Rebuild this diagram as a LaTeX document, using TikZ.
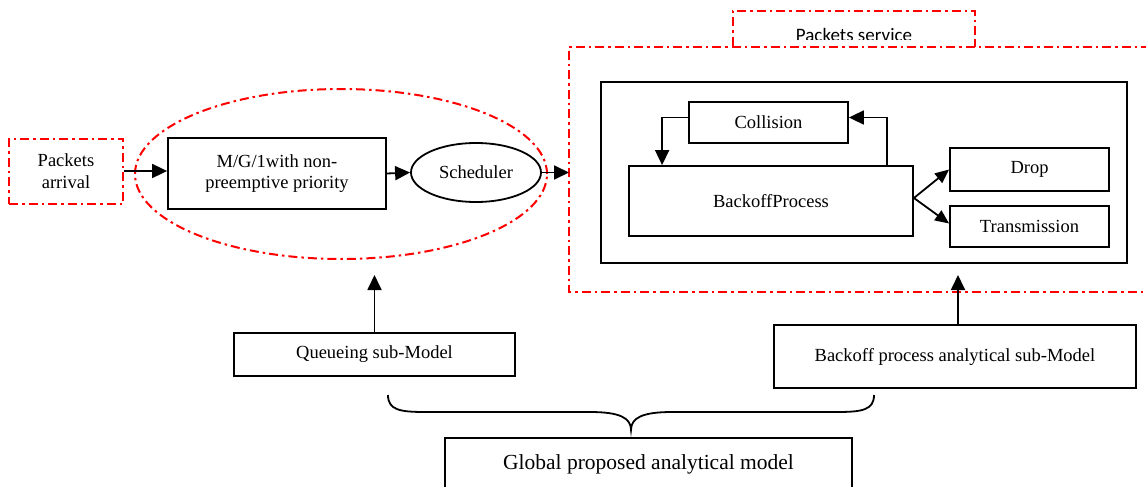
\documentclass[tikz,border=0pt]{standalone}
\usepackage{fontspec}
\setmainfont{Liberation Serif}
\newfontfamily\calfont{Carlito}
\usetikzlibrary{arrows.meta,shapes.geometric}
\begin{document}
\begin{tikzpicture}[x=1pt,y=-1pt,
  box/.style={draw,line width=1.8pt,rectangle,inner sep=0pt,align=center,font=\fontsize{18.5}{21.5}\selectfont},
  redd/.style={draw=red,line width=2pt,dash pattern=on 9pt off 4pt on 2.5pt off 4pt},
  arr/.style={line width=1.8pt,-{Triangle[length=15pt,width=14pt]}},
  arrs/.style={line width=1.8pt,-{Triangle[length=14pt,width=12pt]}}]
\useasboundingbox (0,0) rectangle (1146,487);
% left part
\node[box,redd,minimum width=114pt,minimum height=65pt] (arrival) at (66,171) {Packets\\arrival};
\node[box,minimum width=218pt,minimum height=71pt] (mg1) at (277,173.5) {M/G/1with non-\\preemptive priority};
\node[box,ellipse,minimum width=130pt,minimum height=59pt] (sched) at (476,172.5) {Scheduler};
\node[redd,ellipse,minimum width=412pt,minimum height=170pt,inner sep=0pt] (bigell) at (341,174) {};
% service region
\draw[redd] (1150,47) -- (569,47) -- (569,292) -- (1150,292);
\coordinate (svcL) at (569,172.5);
\begin{scope}
\clip (700,0) rectangle (1000,40);
\node[redd,rectangle,minimum width=242pt,minimum height=36pt,inner sep=0pt] (psvc) at (854,29) {};
\node[font=\calfont\fontsize{19}{22}\selectfont,anchor=base] (psvctext) at (854,41.5) {Packets service};
\end{scope}
\draw[redd] (733,40) -- (733,47) (975,40) -- (975,47);
\node[box,minimum width=526pt,minimum height=181pt] (inner) at (864,172.5) {};
\node[box,minimum width=159pt,minimum height=41pt] (coll) at (768.5,122.5) {Collision};
\node[box,minimum width=284pt,minimum height=70pt] (backoff) at (771,201) {BackoffProcess};
\node[box,minimum width=159pt,minimum height=43pt] (drop) at (1029.5,169.5) {Drop};
\node[box,minimum width=159pt,minimum height=41pt] (trans) at (1029.5,226.5) {Transmission};
% sub-models
\node[box,minimum width=281pt,minimum height=43pt] (qsub) at (374.5,354.5) {Queueing sub-Model};
\node[box,minimum width=362pt,minimum height=63pt] (bsub) at (955,356.5) {Backoff process analytical sub-Model};
\node[box,minimum width=407pt,minimum height=62pt] (glob) at (648.5,469) {};
\node[font=\fontsize{21.5}{25}\selectfont] (globtext) at (648.5,464) {Global proposed analytical model};
\coordinate (qtip) at (374.5,275);
\coordinate (btip) at (958,275);
% connectors
\draw[arr] (arrival.east) -- (arrival.east -| mg1.west);
\draw[arr] (mg1.east) -- (sched.west);
\draw[arr] (sched.east) -- (svcL);
\draw[arr] ([yshift=5pt]coll.west) -| ([xshift=34pt]backoff.north west);
\draw[arr] ([xshift=-27pt]backoff.north east) |- ([yshift=5pt]coll.east);
\draw[arrs] ([yshift=3pt]backoff.east) -- (drop.west);
\draw[arrs] ([yshift=3pt]backoff.east) -- ([yshift=3pt]trans.west);
\draw[arr] (qsub.north) -- (qtip);
\draw[arr] ([xshift=3pt]bsub.north) -- (btip);
% brace
\draw[line width=1.8pt] (388,395) .. controls (388,410) and (400,412) .. (425,412)
  -- (590,412) .. controls (620,412) and (631,418) .. (631,430)
  .. controls (631,418) and (642,412) .. (672,412)
  -- (837,412) .. controls (862,412) and (874,410) .. (874,395);
\end{tikzpicture}
\end{document}
